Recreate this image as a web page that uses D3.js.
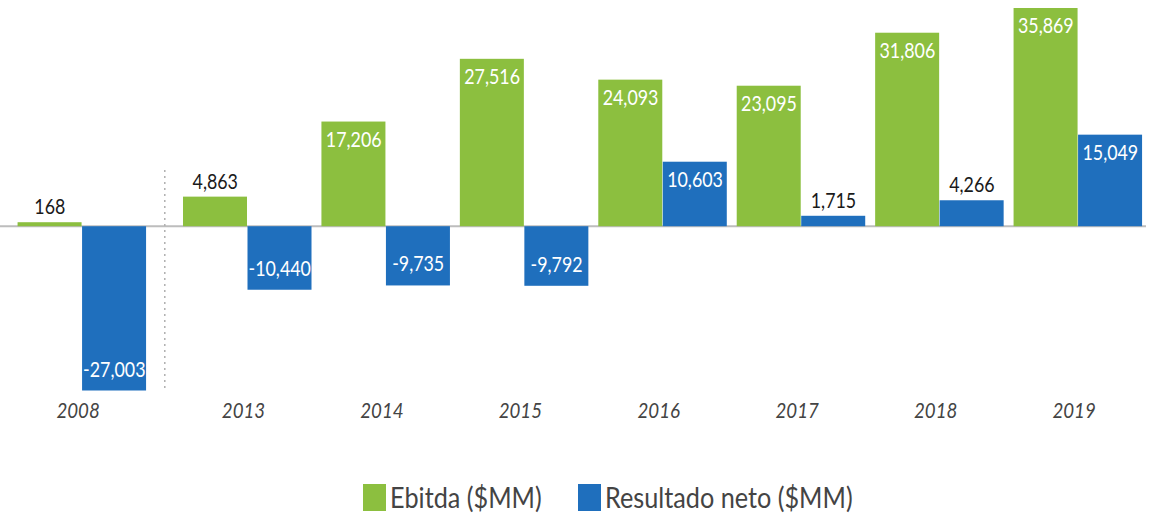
<!DOCTYPE html>
<html>
<head>
<meta charset="utf-8">
<script src="https://cdn.jsdelivr.net/npm/d3@7"></script>
<style>
  html, body { margin: 0; padding: 0; background: #fff; }
  svg text { font-family: Lato, "Open Sans", sans-serif; }
</style>
</head>
<body>
<svg id="chart" width="1161" height="518"></svg>
<script>
const years = ["2008", "2013", "2014", "2015", "2016", "2017", "2018", "2019"];
const ebitda = [168, 4863, 17206, 27516, 24093, 23095, 31806, 35869];
const resultado = [-27003, -10440, -9735, -9792, 10603, 1715, 4266, 15049];
const seriesNames = ["Ebitda ($MM)", "Resultado neto ($MM)"];
const seriesColors = ["#8cbf3f", "#1f6fbd"];

const svg = d3.select("#chart");
const squeeze = 0.85;
const fmt = v => d3.format(",")(v).replace("\u2212", "-");

// x: band scale for years after the break; 2008 placed one step plus a gap to the left
const xMain = d3.scaleBand().domain(years.slice(1)).range([179, 1148]).paddingInner(0).paddingOuter(0);
const step = xMain.step();
const breakGap = 27;
const groupLeft = y => y === years[0] ? xMain(years[1]) - step - breakGap : xMain(y);
const barW = 64.5;
const barOffset = 4;

const yScale = d3.scaleLinear().domain([-27003, 35869]).range([390.5, 8]);
const y0 = yScale(0);

// zero line
svg.append("line")
  .attr("x1", 0).attr("x2", 1146)
  .attr("y1", y0).attr("y2", y0)
  .attr("stroke", "#bdbdbd").attr("stroke-width", 2);

// dotted break line
const breakX = (groupLeft(years[0]) + barOffset + 2 * barW + xMain(years[1]) + barOffset) / 2;
svg.append("line")
  .attr("x1", breakX).attr("x2", breakX)
  .attr("y1", 170).attr("y2", 392)
  .attr("stroke", "#b0b0b0").attr("stroke-width", 1.5)
  .attr("stroke-dasharray", "2,4");

const data = years.map((y, i) => ({year: y, vals: [ebitda[i], resultado[i]]}));

const groups = svg.selectAll("g.grp").data(data).join("g").attr("class", "grp");

groups.each(function(d) {
  const g = d3.select(this);
  d.vals.forEach((v, s) => {
    const x = groupLeft(d.year) + barOffset + s * barW;
    const h = Math.max(Math.abs(yScale(v) - y0), 4);
    const top = v >= 0 ? y0 - h : y0;
    g.append("rect")
      .attr("x", x).attr("y", top)
      .attr("width", barW - 0.5).attr("height", h)
      .attr("fill", seriesColors[s]);
    const inside = h > 40;
    let ty, fill;
    if (v >= 0) {
      if (inside) { ty = top + 25; fill = "#fff"; }
      else { ty = top - 8; fill = "#1a1a1a"; }
    } else {
      ty = top + h - 14; fill = "#fff";
    }
    const cx = x + barW / 2;
    g.append("text")
      .attr("transform", `translate(${cx},${ty}) scale(${squeeze},1)`)
      .attr("text-anchor", "middle")
      .attr("font-size", 21)
      .attr("fill", fill)
      .text(fmt(v));
  });
});

// year labels
svg.selectAll("text.year").data(years).join("text")
  .attr("class", "year")
  .attr("transform", d => `translate(${groupLeft(d) + barOffset + barW - 4},${418}) scale(${squeeze},1)`)
  .attr("text-anchor", "middle")
  .attr("font-size", 22)
  .attr("font-style", "italic")
  .attr("fill", "#444")
  .text(d => d);

// legend
const legendX = [363, 578];
const legend = svg.selectAll("g.leg").data(seriesNames).join("g").attr("class", "leg")
  .attr("transform", (d, i) => `translate(${legendX[i]},484)`);
legend.append("rect").attr("x", 0).attr("y", 0).attr("width", 23).attr("height", 27)
  .attr("fill", (d, i) => seriesColors[i]);
legend.append("text")
  .attr("transform", `translate(27,24) scale(0.87,1)`)
  .attr("font-size", 29)
  .attr("fill", "#444")
  .text(d => d);
</script>
</body>
</html>
